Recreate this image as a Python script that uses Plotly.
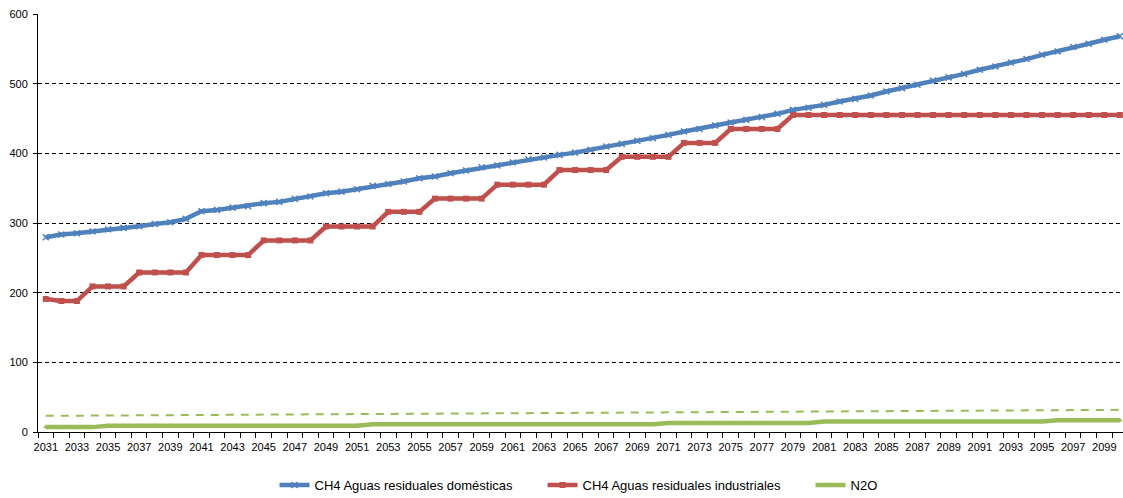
import plotly.graph_objects as go

years = list(range(2031, 2101))

ch4_domesticas = [
    279.6, 283.4, 285.4, 287.7, 291.1, 293.0, 295.4, 298.7, 301.2, 305.9,
    317.0, 318.8, 322.1, 324.1, 328.5, 330.3, 334.6, 338.0, 342.8, 345.0,
    348.5, 353.3, 356.0, 359.5, 364.3, 366.7, 371.5, 375.3, 380.0, 382.5,
    386.8, 391.6, 394.0, 397.8, 401.0, 405.0, 409.8, 413.6, 418.0, 421.8,
    426.5, 431.3, 435.0, 440.0, 444.2, 448.0, 452.0, 456.7, 462.4, 465.5,
    469.6, 474.4, 478.2, 483.0, 488.7, 493.6, 498.4, 504.5, 509.0, 514.0,
    520.0, 524.7, 530.4, 535.3, 541.4, 546.2, 552.5, 557.3, 563.0, 568.0,
]

ch4_industriales = [
    191, 188, 188,
    209, 209, 209,
    229, 229, 229, 229,
    254, 254, 254, 254,
    275, 275, 275, 275,
    295, 295, 295, 295,
    316, 316, 316,
    335, 335, 335, 335,
    355, 355, 355, 355,
    376, 376, 376, 376,
    395, 395, 395, 395,
    415, 415, 415,
    435, 435, 435, 435,
] + [455] * 22

n2o = [7] * 4 + [9] * 17 + [11] * 19 + [13] * 10 + [15] * 15 + [17] * 5

trend_years = [2031, 2100]
trend_values = [23.2, 31.8]

x_tick_years = list(range(2031, 2100, 2))
x_tick_labels = [str(y) for y in x_tick_years]
y_ticks = [0, 100, 200, 300, 400, 500, 600]

BLUE = "#4F81BD"
RED = "#C0504D"
GREEN = "#9BBB59"
FONT = "Liberation Sans, Arial, sans-serif"

fig = go.Figure()

fig.add_trace(go.Scatter(
    x=trend_years, y=trend_values, mode="lines",
    line=dict(color=GREEN, width=2, dash="8px,7px"),
    showlegend=False, hoverinfo="skip",
))
fig.add_trace(go.Scatter(
    x=years, y=ch4_domesticas, mode="lines+markers",
    name="CH4 Aguas residuales domésticas",
    line=dict(color=BLUE, width=4.5),
    marker=dict(symbol="x-thin", size=6, line=dict(color=BLUE, width=1.5), color=BLUE),
))
fig.add_trace(go.Scatter(
    x=years, y=ch4_industriales, mode="lines+markers",
    name="CH4 Aguas residuales industriales",
    line=dict(color=RED, width=4.5),
    marker=dict(symbol="square", size=6, color=RED),
))
fig.add_trace(go.Scatter(
    x=years, y=n2o, mode="lines+markers",
    name="N2O",
    line=dict(color=GREEN, width=4.5),
    marker=dict(symbol="triangle-up", size=5, color=GREEN),
))

fig.update_layout(
    width=1123, height=498,
    margin=dict(l=38, r=0, t=14, b=66, autoexpand=False),
    paper_bgcolor="white", plot_bgcolor="white",
    font=dict(family=FONT, size=11, color="black"),
    legend=dict(
        orientation="h", x=0.218, xanchor="left", y=-0.127, yanchor="middle",
        font=dict(family=FONT, size=13, color="black"),
        entrywidth=223, entrywidthmode="pixels",
        itemwidth=30, tracegroupgap=0,
    ),
    xaxis=dict(
        range=[2030.5, 2100.2], automargin=False,
        tickmode="array", tickvals=x_tick_years, ticktext=x_tick_labels,
        ticks="", ticklen=0, ticklabelstandoff=5,
        showgrid=False, zeroline=False,
        showline=True, linecolor="black", linewidth=1,
        tickfont=dict(family=FONT, size=11, color="black"),
        minor=dict(tick0=2030.5, dtick=1, ticks="outside", ticklen=5,
                   tickcolor="black", tickwidth=1, showgrid=False),
    ),
    yaxis=dict(
        range=[0, 600], automargin=False,
        tickmode="array", tickvals=y_ticks,
        ticks="outside", ticklen=4, tickcolor="black", ticklabelstandoff=3,
        showgrid=True, gridcolor="black", gridwidth=1, griddash="4px,3px",
        zeroline=False,
        showline=True, linecolor="black", linewidth=1,
        tickfont=dict(family=FONT, size=11, color="black"),
    ),
)

fig.write_html("out.html", config={"displayModeBar": False},
               post_script="document.body.style.margin='0';")
